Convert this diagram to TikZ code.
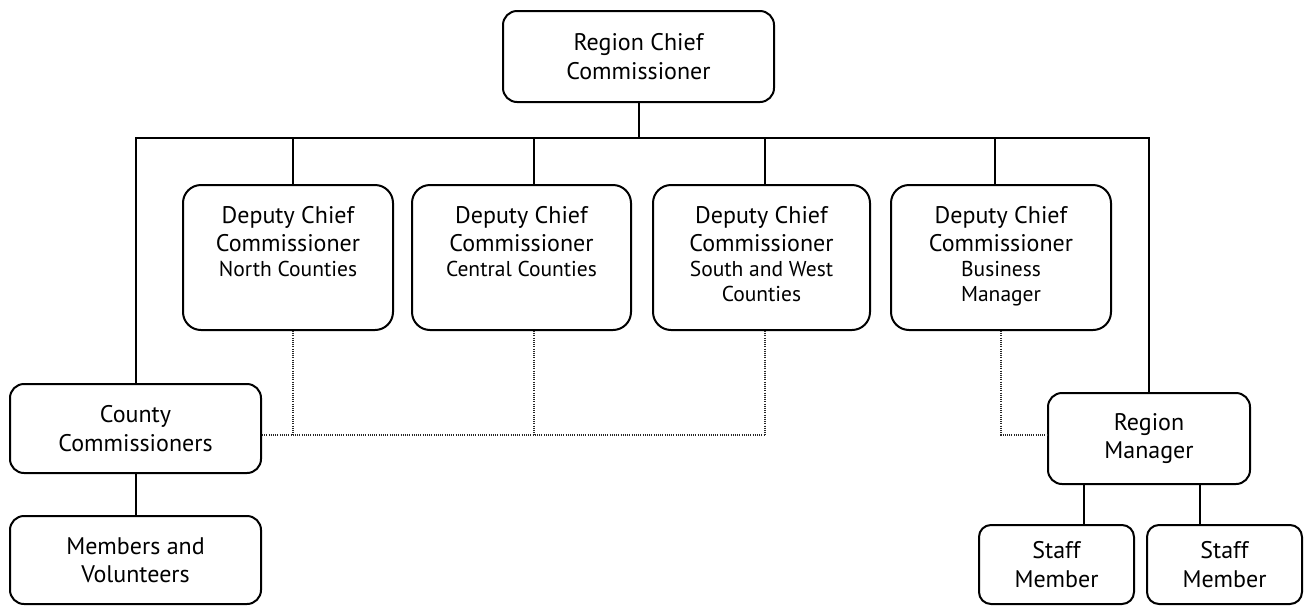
\documentclass[tikz,border=0pt]{standalone}
\usepackage{fontspec}
\setmainfont{PT Sans}
\usepackage{tikz}
\usetikzlibrary{positioning,calc}
\newcommand{\mainsz}{\fontsize{24}{28.5}\selectfont}
\newcommand{\subsz}{\fontsize{21.5}{25}\selectfont}
% deputy boxes: title on top, area underneath in smaller type
\newcommand{\deplines}[1]{\parbox[c][145pt][t]{205pt}{\centering\rule{0pt}{38pt}Deputy Chief\\Commissioner\par\subsz #1\par}}
\tikzset{
  box/.style     ={draw, line width=2pt, rounded corners=14pt, align=center, font=\mainsz, inner sep=0pt},
  dep/.style     ={box, rounded corners=18pt, minimum width=210pt},
  conn/.style    ={line width=2pt},
  dotconn/.style ={line width=1.2pt, dash pattern=on 1pt off 1.2pt, draw=black!85},
}
\begin{document}
\begin{tikzpicture}[x=1pt, y=-1pt]
  \useasboundingbox (0,0) rectangle (1307,606);
  % --- top ---
  \node[box, minimum width=271pt, minimum height=91pt] (rcc) at (638.5,56.5) {Region Chief\\Commissioner};
  \coordinate (bus) at (638,138);
  \coordinate (b1) at (293,138); \coordinate (b2) at (534,138);
  \coordinate (b3) at (765,138); \coordinate (b4) at (995,138);
  % --- deputies ---
  \node[dep] (dn) at (288,257.5)  {\deplines{North Counties}};
  \node[dep, minimum width=219pt] (dc) at (521.5,257.5) {\deplines{Central Counties}};
  \node[dep, minimum width=217pt] (ds) at (761.5,257.5) {\deplines{South and West\\Counties}};
  \node[dep, minimum width=220pt] (db) at (1001,257.5) {\deplines{Business\\Manager}};
  % --- left branch ---
  \node[box, minimum width=251pt, minimum height=89pt] (cc) at (135.5,428.5) {County\\Commissioners};
  \node[box, minimum width=251pt, minimum height=88pt] (mv) at (135.5,560) {Members and\\Volunteers};
  % --- right branch ---
  \node[box, minimum width=202pt, minimum height=91pt] (rm) at (1149,438.5) {Region\\Manager};
  \node[box, rounded corners=12pt, minimum width=155pt, minimum height=79pt] (s1) at (1056.5,564.5) {Staff\\Member};
  \node[box, rounded corners=12pt, minimum width=155pt, minimum height=79pt] (s2) at (1224.5,564.5) {Staff\\Member};
  % solid lines
  \draw[conn] (rcc.south) -- (rcc.south |- bus);
  \draw[conn] (cc.north) |- (rm.north |- bus) -- (rm.north);
  \foreach \bp/\dp in {b1/dn, b2/dc, b3/ds, b4/db}
    \draw[conn] (\bp) -- (\bp |- \dp.north);
  \draw[conn] (cc) -- (mv);
  \draw[conn] ([xshift=-65pt]rm.south) -- ([xshift=-65pt]rm.south |- s1.north);
  \draw[conn] ([xshift=51pt]rm.south) -- ([xshift=51pt]rm.south |- s2.north);
  % dotted lines
  \coordinate (dl) at (765,435);
  \draw[dotconn] (cc.east |- dl) -- (dl);
  \foreach \bp/\dp in {b1/dn, b2/dc, b3/ds}
    \draw[dotconn] (\bp |- \dp.south) -- (\bp |- dl);
  \draw[dotconn] (db.south) |- (rm.west |- dl);
\end{tikzpicture}
\end{document}
